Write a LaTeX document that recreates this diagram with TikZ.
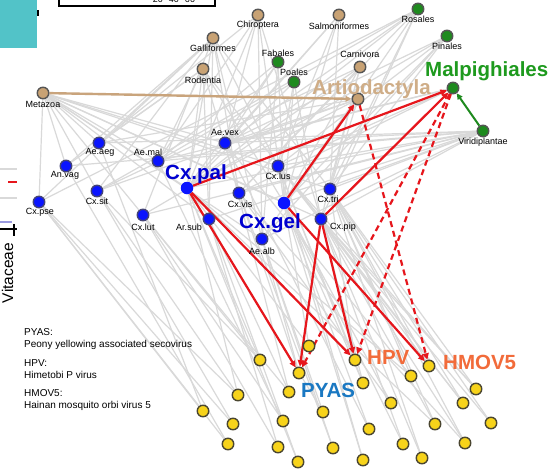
\documentclass[tikz,border=0pt]{standalone}
\usepackage{fontspec}
\setmainfont{Liberation Sans}
\usetikzlibrary{arrows.meta}
\pgfdeclarelayer{grayl}
\pgfdeclarelayer{redl}
\pgfsetlayers{grayl,redl,main}
\definecolor{gedge}{HTML}{D9D9D9}
\definecolor{myred}{HTML}{E6161C}
\definecolor{tanfill}{HTML}{C8A274}
\definecolor{tanlbl}{HTML}{CFAD87}
\definecolor{tanline}{HTML}{C9A47C}
\definecolor{grfill}{HTML}{1E8A1E}
\definecolor{grlbl}{HTML}{1E9A1E}
\definecolor{blfill}{HTML}{0A14FF}
\definecolor{bllbl}{HTML}{0000D0}
\definecolor{yefill}{HTML}{F7D31A}
\definecolor{nborder}{HTML}{555555}
\definecolor{yborder}{HTML}{4A4630}
\definecolor{orlbl}{HTML}{F26B3A}
\definecolor{pyaslbl}{HTML}{1A78C2}
\definecolor{cyanbox}{HTML}{52C3C8}
\definecolor{purp}{HTML}{9A9AE0}
\begin{document}
\begin{tikzpicture}[x=1pt,y=-1pt,
  nd/.style={circle,draw=nborder,line width=1.4pt,minimum size=11.5pt,inner sep=0pt},
  host/.style={nd,fill=tanfill},
  plant/.style={nd,fill=grfill},
  mosq/.style={nd,fill=blfill,draw=nborder!80!blue},
  mbig/.style={circle,fill=blfill,minimum size=12.5pt,inner sep=0pt},
  virus/.style={nd,fill=yefill,draw=yborder},
  lbl/.style={font=\fontsize{9}{10}\selectfont,inner sep=0pt},
  big/.style={font=\fontsize{20.5}{22}\selectfont\bfseries,inner sep=0pt,anchor=base west},
  leg/.style={font=\fontsize{10}{11}\selectfont,inner sep=0pt,anchor=base west},
  gline/.style={draw=gedge,line width=1.2pt},
  rarrow/.style={draw=myred,line width=2.2pt,-{Triangle[length=6.5pt,width=6pt]}},
  rdash/.style={rarrow,dash pattern=on 6pt off 4pt}
]
\useasboundingbox (0,0) rectangle (549,469);
\begin{pgfonlayer}{grayl}
\fill[white] (0,0) rectangle (549,469);
\end{pgfonlayer}

% cropped fragments of neighbouring panels
\fill[cyanbox] (0,0) rectangle (37,48);
\draw[black,line width=1.6pt] (38,10) -- (38,16);
\draw[black,line width=2pt] (59,-12) rectangle (215,6);
\node[font=\fontsize{9}{10}\selectfont,inner sep=0pt,anchor=base] (scale) at (174,2) {20\hspace{6pt}40\hspace{6pt}60};
\draw[gedge,line width=1.2pt] (0,169) -- (17,169);
\draw[myred,line width=1.6pt] (8,182) -- (17,182);
\draw[gedge,line width=1.2pt] (0,198) -- (17,198);
\draw[purp,line width=1.4pt] (0,222) -- (12,222);
\draw[black,line width=1.4pt] (0,229) -- (17,229) (14,224) -- (14,236);
\node[font=\fontsize{15.5}{16}\selectfont,inner sep=0pt,rotate=90,anchor=base] (vit) at (13,273) {Vitaceae};

% hosts
\node[host] (metazoa) at (43,93) {};
\node[host] (galli) at (213,38) {};
\node[host] (roden) at (203,69) {};
\node[host] (chiro) at (258,15) {};
\node[host] (salmo) at (339,15) {};
\node[host] (carni) at (360,67) {};
\node[plant] (fabal) at (278,62) {};
\node[plant] (poale) at (294,82) {};
\node[host] (artio) at (358,99) {};
\node[plant] (rosal) at (418,9) {};
\node[plant] (pinal) at (447,36) {};
\node[plant] (malpi) at (453,88) {};
\node[plant] (virid) at (483,131) {};

\node[lbl] (metazoaL) at (43,104) {Metazoa};
\node[lbl] (galliL) at (213,48) {Galliformes};
\node[lbl] (rodenL) at (203,80) {Rodentia};
\node[lbl] (chiroL) at (258,25) {Chiroptera};
\node[lbl] (salmoL) at (339,26) {Salmoniformes};
\node[lbl] (carniL) at (360,54) {Carnivora};
\node[lbl] (fabalL) at (278,53) {Fabales};
\node[lbl] (poaleL) at (294,72) {Poales};
\node[lbl] (rosalL) at (418,19) {Rosales};
\node[lbl] (pinalL) at (447,46) {Pinales};
\node[lbl] (viridL) at (483,142) {Viridiplantae};
\node[big,text=tanlbl] (artioL) at (312,94) {Artiodactyla};
\node[big,text=grlbl] (malpiL) at (425,76) {Malpighiales};

% mosquitoes
\node[mosq] (aeaeg) at (99,143) {};
\node[mosq] (aemal) at (158,161) {};
\node[mosq] (anvag) at (66,166) {};
\node[mosq] (cxsit) at (97,191) {};
\node[mosq] (cxpse) at (39,202) {};
\node[mosq] (cxlut) at (143,215) {};
\node[mbig] (cxpal) at (187,188) {};
\node[mosq] (aevex) at (225,143) {};
\node[mosq] (cxlus) at (278,166) {};
\node[mosq] (cxvis) at (239,193) {};
\node[mbig] (cxgel) at (284,203) {};
\node[mosq] (cxtri) at (330,189) {};
\node[mosq] (cxpip) at (321,219) {};
\node[mosq] (arsub) at (209,219) {};
\node[mosq] (aealb) at (262,239) {};

\node[lbl] (aeaegL) at (100,152) {Ae.aeg};
\node[lbl] (aemalL) at (148,152) {Ae.mal};
\node[lbl] (anvagL) at (65,175) {An.vag};
\node[lbl] (cxsitL) at (97,201) {Cx.sit};
\node[lbl] (cxpseL) at (40,212) {Cx.pse};
\node[lbl] (cxlutL) at (143,227) {Cx.lut};
\node[lbl] (aevexL) at (225,132) {Ae.vex};
\node[lbl] (cxlusL) at (278,176) {Cx.lus};
\node[lbl] (cxvisL) at (240,204) {Cx.vis};
\node[lbl] (cxtriL) at (328,199) {Cx.tri};
\node[lbl] (cxpipL) at (343,227) {Cx.pip};
\node[lbl] (arsubL) at (189,227) {Ar.sub};
\node[lbl] (aealbL) at (262,251) {Ae.alb};
\node[big,text=bllbl] (cxpalL) at (165,179) {Cx.pal};
\node[big,text=bllbl] (cxgelL) at (239,228) {Cx.gel};

% viruses
\node[virus] (v1) at (260,360) {};
\node[virus] (v2) at (309,346) {};
\node[virus] (pyas) at (299,373) {};
\node[virus] (hpv) at (355,360) {};
\node[virus] (hmov) at (429,366) {};
\node[virus] (v6) at (238,395) {};
\node[virus] (v7) at (289,392) {};
\node[virus] (v8) at (363,383) {};
\node[virus] (v9) at (411,376) {};
\node[virus] (v10) at (476,389) {};
\node[virus] (v11) at (391,403) {};
\node[virus] (v12) at (463,403) {};
\node[virus] (v13) at (323,412) {};
\node[virus] (v14) at (233,424) {};
\node[virus] (v15) at (283,421) {};
\node[virus] (v16) at (369,429) {};
\node[virus] (v17) at (435,424) {};
\node[virus] (v18) at (491,423) {};
\node[virus] (v19) at (228,444) {};
\node[virus] (v20) at (278,447) {};
\node[virus] (v21) at (333,448) {};
\node[virus] (v22) at (403,444) {};
\node[virus] (v23) at (465,443) {};
\node[virus] (v24) at (298,462) {};
\node[virus] (v25) at (363,460) {};
\node[virus] (v26) at (422,458) {};
\node[virus] (v27) at (203,411) {};

\node[big,text=orlbl] (hpvL) at (367,364) {HPV};
\node[big,text=orlbl] (hmovL) at (443,369) {HMOV5};
\node[big,text=pyaslbl] (pyasL) at (301,397) {PYAS};

% legend
\node[leg] (l1) at (24,335) {PYAS:};
\node[leg] (l2) at (24,347) {Peony yellowing associated secovirus};
\node[leg] (l3) at (24,366.5) {HPV:};
\node[leg] (l4) at (24,378) {Himetobi P virus};
\node[leg] (l5) at (24,396.5) {HMOV5:};
\node[leg] (l6) at (24,408) {Hainan mosquito orbi virus 5};

% gray edges
\begin{pgfonlayer}{grayl}
\foreach \a/\b in {
 metazoa/cxpse,metazoa/anvag,metazoa/aeaeg,metazoa/aemal,metazoa/cxsit,metazoa/cxlut,metazoa/cxpal,
 metazoa/aevex,metazoa/cxlus,metazoa/cxgel,metazoa/cxtri,metazoa/cxpip,metazoa/arsub,metazoa/aealb,
 galli/cxpse,galli/anvag,galli/aeaeg,galli/cxsit,galli/cxlut,galli/cxpal,galli/cxlus,galli/cxvis,galli/cxtri,galli/arsub,galli/aealb,
 roden/anvag,roden/aeaeg,roden/aemal,roden/cxpal,roden/cxvis,roden/cxgel,roden/cxpip,roden/arsub,
 chiro/aeaeg,chiro/aemal,chiro/cxpal,chiro/aevex,chiro/cxgel,chiro/cxpip,chiro/aealb,
 salmo/cxpal,salmo/cxlus,salmo/cxgel,salmo/cxtri,salmo/aevex,
 carni/cxsit,carni/cxpal,carni/cxvis,carni/cxgel,carni/cxtri,carni/cxpip,
 fabal/aemal,fabal/cxpal,fabal/aevex,fabal/cxgel,fabal/aealb,
 poale/aemal,poale/cxpal,poale/cxlus,poale/cxgel,poale/cxpip,
 artio/aeaeg,artio/cxsit,artio/cxpal,artio/aevex,artio/aealb,artio/cxtri,
 rosal/cxpse,rosal/cxsit,rosal/cxpal,rosal/aevex,rosal/cxvis,rosal/cxgel,rosal/cxtri,rosal/cxpip,
 pinal/cxlut,pinal/cxlus,pinal/cxgel,pinal/cxtri,pinal/aealb,pinal/aevex,
 malpi/cxlus,malpi/aevex,malpi/aemal,malpi/cxvis,
 virid/anvag,virid/aeaeg,virid/cxlut,virid/cxpal,virid/aevex,virid/cxlus,virid/cxgel,virid/cxtri,
 virid/cxpip,virid/arsub,virid/aealb,virid/aemal,virid/cxvis,
 cxpal/v1,cxlut/v1,cxsit/v1,cxgel/v2,cxpal/v2,cxvis/pyas,aealb/pyas,cxlus/hpv,cxtri/hpv,
 cxtri/hmov,cxpip/hmov,cxpse/v6,cxsit/v6,cxpal/v6,cxlut/v7,arsub/v7,aevex/v7,cxgel/v8,cxlus/v8,
 cxpip/v8,cxtri/v9,cxpal/v9,cxpip/v10,cxtri/v10,cxgel/v11,cxvis/v11,cxtri/v12,cxlus/v12,
 aealb/v13,cxpal/v13,cxpse/v14,cxsit/v14,cxlut/v15,aemal/v15,cxgel/v16,aevex/v16,cxpip/v17,
 cxpal/v17,cxtri/v18,anvag/v19,cxpse/v19,arsub/v20,cxlut/v20,aealb/v21,cxvis/v21,cxpip/v22,
 cxgel/v22,cxtri/v23,cxpip/v23,cxpal/v24,arsub/v24,cxlus/v25,cxgel/v25,cxpip/v26,cxpse/v27,aeaeg/v27,
 cxtri/v17,cxlus/v10,cxtri/v26,cxpip/v12,cxlus/v18,aevex/v9,cxvis/v23}
 \draw[gline] (\a) -- (\b);
\end{pgfonlayer}

% coloured edges
\begin{pgfonlayer}{redl}
\draw[draw=tanline,line width=2.4pt,-{Triangle[length=6pt,width=5.5pt]}] (metazoa) -- (artio);
\draw[draw=grfill,line width=2pt,-{Triangle[length=6pt,width=5.5pt]}] (virid) -- (malpi);
\draw[rarrow] (cxpal) -- (malpi);
\draw[rarrow] (cxgel) -- (artio);
\draw[rarrow] (cxpip) -- (malpi);
\draw[rarrow] (cxpal) -- (pyas);
\draw[rarrow] (cxpal) -- (hpv);
\draw[rarrow] (cxgel) -- (hmov);
\draw[rarrow] (cxpip) -- (pyas);
\draw[rarrow] (cxpip) -- (hpv);
\draw[rdash] (artio) -- (hmov);
\draw[rdash] (malpi) -- (pyas);
\draw[rdash] (malpi) -- (hpv);
\end{pgfonlayer}
\end{tikzpicture}
\end{document}
